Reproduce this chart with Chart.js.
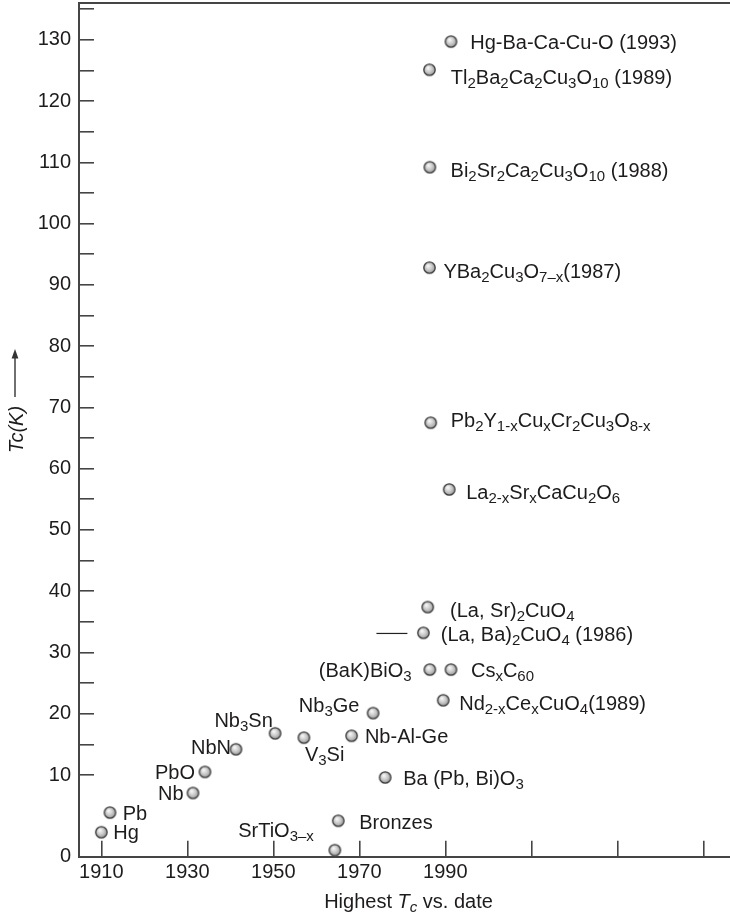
<!DOCTYPE html>
<html><head><meta charset="utf-8">
<script src="https://cdn.jsdelivr.net/npm/chart.js@4.4.1/dist/chart.umd.min.js"></script>
<style>html,body{margin:0;padding:0;background:#fff;overflow:hidden;}canvas{display:block;}</style>
</head><body>
<canvas id="c" width="730" height="915"></canvas>
<script>
// ---- data ----
const materials = [
  'Hg', 'Pb', 'Nb', 'PbO', 'NbN', 'Nb_{3}Sn', 'V_{3}Si', 'Nb-Al-Ge', 'Nb_{3}Ge',
  'Ba (Pb, Bi)O_{3}', 'Bronzes', 'SrTiO_{3–x}', '(BaK)BiO_{3}', 'Cs_{x}C_{60}',
  'Nd_{2-x}Ce_{x}CuO_{4}(1989)', '(La, Ba)_{2}CuO_{4} (1986)', '(La, Sr)_{2}CuO_{4}',
  'La_{2-x}Sr_{x}CaCu_{2}O_{6}', 'Pb_{2}Y_{1-x}Cu_{x}Cr_{2}Cu_{3}O_{8-x}',
  'YBa_{2}Cu_{3}O_{7–x}(1987)', 'Bi_{2}Sr_{2}Ca_{2}Cu_{3}O_{10} (1988)',
  'Tl_{2}Ba_{2}Ca_{2}Cu_{3}O_{10} (1989)', 'Hg-Ba-Ca-Cu-O (1993)'
];
const discoveryYears = [
  1910.0, 1912.0, 1931.3, 1934.1, 1941.3, 1950.4, 1957.1, 1968.2, 1973.2,
  1976.0, 1965.1, 1964.3, 1986.4, 1991.3,
  1989.5, 1984.9, 1985.9,
  1990.9, 1986.6,
  1986.3, 1986.4,
  1986.3, 1991.3
];
const tcKelvin = [
  3.0, 5.4, 7.8, 10.5, 14.2, 16.8, 16.1, 16.4, 20.1,
  9.7, 4.4, 0.8, 27.2, 27.2,
  22.2, 33.2, 37.4,
  56.6, 67.5,
  92.8, 109.2,
  125.1, 129.7
];
const xTickYears = [1910, 1930, 1950, 1970, 1990, 2010, 2030, 2050];
const xTickLabels = ['1910', '1930', '1950', '1970', '1990', '', '', ''];
const yTicksLow = [0];
const yTicksHigh = [10, 15, 20, 25, 30, 35, 40, 45, 50, 55, 60, 65, 70, 75, 80, 85, 90, 95, 100, 105, 110, 115, 120, 125, 130, 135];
const yTickLabels = ['0', '10', '20', '30', '40', '50', '60', '70', '80', '90', '100', '110', '120', '130'];
const BREAK_K = 10;

// ---- layout / style (not data) ----
const FAM = "'Liberation Sans', Arial, Helvetica, sans-serif";
const TXT = '#1e1b1c';
const AX = '#454545';
// [dx, dy(baseline), align] label offsets from each point
const labelPlacement = [
  [12, 7.3, 'left'], [12.7, 7.3, 'left'], [-9.4, 6.6, 'right'], [-10, 7, 'right'],
  [-5, 4.3, 'right'], [-2.3, -6.6, 'right'], [1, 23.7, 'left'], [13.3, 7, 'left'],
  [-13.7, -1, 'right'], [18, 7.7, 'left'], [21, 8.3, 'left'], [-21, -12.7, 'right'],
  [-18.3, 7.4, 'right'], [20, 7.4, 'left'], [16, 9.3, 'left'], [17.4, 8.3, 'left'],
  [22.3, 10, 'left'], [17, 9.3, 'left'], [20, 4.4, 'left'], [14, 10, 'left'],
  [20.7, 9.3, 'left'], [21.4, 14, 'left'], [19.3, 7.6, 'left']
];
const leaderIndex = 15;

function sphere() {
  const c = document.createElement('canvas');
  c.width = 15; c.height = 15;
  const g = c.getContext('2d');
  const grad = g.createRadialGradient(6, 5.5, 0.5, 7.5, 7.5, 6.5);
  grad.addColorStop(0, '#f6f6f6'); grad.addColorStop(0.45, '#cdcdcd'); grad.addColorStop(1, '#8c8c8c');
  g.beginPath(); g.arc(7.5, 7.5, 5.7, 0, Math.PI * 2);
  g.fillStyle = grad; g.fill();
  g.lineWidth = 1.3; g.strokeStyle = '#3c3c3c'; g.stroke();
  return c;
}
const ball = sphere();

function parseRich(markup) {
  const segs = []; const re = /_\{([^}]*)\}/g; let last = 0, m;
  while ((m = re.exec(markup))) {
    if (m.index > last) segs.push({ t: markup.slice(last, m.index), sub: false });
    segs.push({ t: m[1], sub: true }); last = re.lastIndex;
  }
  if (last < markup.length) segs.push({ t: markup.slice(last), sub: false });
  return segs;
}
function drawSegs(ctx, segs, x, y, align) {
  let w = 0;
  for (const s of segs) { ctx.font = (s.it ? 'italic ' : '') + (s.sub ? '15px ' : '20px ') + FAM; s.w = ctx.measureText(s.t).width; w += s.w; }
  let cx = align === 'right' ? x - w : align === 'center' ? x - w / 2 : x;
  ctx.textAlign = 'left'; ctx.textBaseline = 'alphabetic';
  for (const s of segs) { ctx.font = (s.it ? 'italic ' : '') + (s.sub ? '15px ' : '20px ') + FAM; ctx.fillText(s.t, cx, s.sub ? y + 4 : y); cx += s.w; }
}
const framePlugin = { id: 'topFrame', beforeDatasetsDraw(chart) {
  const ctx = chart.ctx; const ca = chart.chartArea; ctx.save(); ctx.strokeStyle = AX; ctx.lineWidth = 2;
  ctx.beginPath(); ctx.moveTo(ca.left - 1, ca.top); ctx.lineTo(ca.right, ca.top); ctx.stroke(); ctx.restore(); } };
const labelPlugin = {
  id: 'pointLabels',
  afterDatasetsDraw(chart) {
    const ctx = chart.ctx; const xs = chart.scales.x;
    ctx.save(); ctx.fillStyle = TXT;
    materials.forEach((name, i) => {
      const ys = tcKelvin[i] >= BREAK_K ? chart.scales.y : chart.scales.yLow;
      const px = xs.getPixelForValue(discoveryYears[i]); const py = ys.getPixelForValue(tcKelvin[i]);
      const [dx, dy, al] = labelPlacement[i];
      drawSegs(ctx, parseRich(name), px + dx, py + dy, al);
      if (i === leaderIndex) { ctx.beginPath(); ctx.moveTo(px - 47, py + 0.6); ctx.lineTo(px - 16, py + 0.6); ctx.strokeStyle = '#222'; ctx.lineWidth = 1.2; ctx.stroke(); }
    });
    ctx.restore();
  },
  afterDraw(chart) {
    const ctx = chart.ctx; const ca = chart.chartArea;
    ctx.save(); ctx.fillStyle = TXT;
    drawSegs(ctx, [{ t: 'Highest ' }, { t: 'T', it: true }, { t: 'c', it: true, sub: true }, { t: ' vs. date' }], (ca.left + ca.right) / 2 + 4, chart.height - 7, 'center');
    ctx.translate(22.5, 453); ctx.rotate(-Math.PI / 2);
    ctx.font = 'italic 20px ' + FAM; ctx.fillText('Tc(K)', 0, 0);
    ctx.restore();
    ctx.save(); ctx.strokeStyle = '#333'; ctx.fillStyle = '#333'; ctx.lineWidth = 1.4;
    ctx.beginPath(); ctx.moveTo(15, 397); ctx.lineTo(15, 356); ctx.stroke();
    ctx.beginPath(); ctx.moveTo(15, 349); ctx.lineTo(11.6, 358.5); ctx.lineTo(18.4, 358.5); ctx.closePath(); ctx.fill();
    ctx.restore();
  }
};
const hiPts = [], loPts = [];
tcKelvin.forEach((v, i) => { (v >= BREAK_K ? hiPts : loPts).push({ x: discoveryYears[i], y: v }); });
const tickFont = { family: FAM, size: 20 };
const yCallback = v => (yTickLabels.includes(String(v)) ? String(v) : '');
new Chart(document.getElementById('c'), {
  type: 'scatter',
  data: { datasets: [
    { data: hiPts, yAxisID: 'y', pointStyle: ball, pointRadius: 7, showLine: false, clip: false },
    { data: loPts, yAxisID: 'yLow', pointStyle: ball, pointRadius: 7, showLine: false, clip: false } ] },
  options: {
    responsive: false, animation: false, devicePixelRatio: 1, events: [],
    layout: { autoPadding: false, padding: { top: 3, right: 0, bottom: 0, left: 0 } },
    plugins: { legend: { display: false }, tooltip: { enabled: false } },
    scales: {
      x: { type: 'linear', position: 'bottom', min: 1904.8, max: 2056.2,
        afterBuildTicks: s => { s.ticks = xTickYears.map(v => ({ value: v })); },
        afterFit: s => { s.height = 58.3; s.paddingLeft = 0; s.paddingRight = 0; },
        grid: { drawOnChartArea: false, drawTicks: true, tickLength: -16, color: AX, tickColor: AX, lineWidth: 1.6 },
        border: { display: true, color: AX, width: 2 },
        ticks: { padding: 20, font: tickFont, color: TXT, autoSkip: false, maxRotation: 0,
          callback: v => { const k = xTickYears.indexOf(v); return k >= 0 ? xTickLabels[k] : ''; } } },
      y: { type: 'linear', position: 'left', stack: 'tc', weight: 1, stackWeight: 772, min: 10, max: 136,
        afterBuildTicks: s => { s.ticks = yTicksHigh.map(v => ({ value: v })); },
        grid: { drawOnChartArea: false, drawTicks: true, tickLength: -15, color: AX, tickColor: AX, lineWidth: 1.6 },
        border: { display: true, color: AX, width: 2 },
        ticks: { padding: 23, font: tickFont, color: TXT, autoSkip: false, callback: yCallback },
        afterFit: s => { s.width = 79; s.paddingTop = 0; s.paddingBottom = 0; } },
      yLow: { type: 'linear', position: 'left', stack: 'tc', weight: 0, stackWeight: 81.7, min: 0, max: 10,
        afterBuildTicks: s => { s.ticks = yTicksLow.map(v => ({ value: v })); },
        grid: { drawOnChartArea: false, drawTicks: true, tickLength: -15, color: AX, tickColor: AX, lineWidth: 1.6 },
        border: { display: true, color: AX, width: 2 },
        ticks: { padding: 23, font: tickFont, color: TXT, autoSkip: false, callback: yCallback },
        afterFit: s => { s.width = 79; s.paddingTop = 0; s.paddingBottom = 0; } }
    }
  },
  plugins: [framePlugin, labelPlugin]
});
</script>
</body></html>
